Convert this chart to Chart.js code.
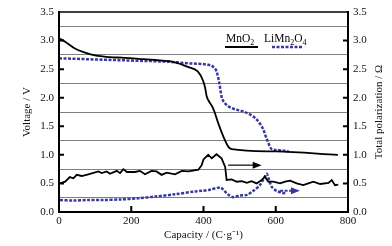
<!DOCTYPE html>
<html>
<head>
<meta charset="utf-8">
<script src="https://cdn.jsdelivr.net/npm/chart.js@4.4.0/dist/chart.umd.min.js"></script>
<style>
  html, body { margin: 0; padding: 0; background: #fff; }
</style>
</head>
<body>
<canvas id="chart" width="392" height="246"></canvas>
<script>
// voltage curves (left axis)
const mno2VoltCap = [0, 17, 44, 72, 100, 140, 174, 220, 266, 321, 357, 384, 398, 404, 409, 413, 427, 441, 455, 469, 478, 600, 772];
const mno2Volt = [3.04, 2.98, 2.86, 2.79, 2.74, 2.71, 2.70, 2.68, 2.66, 2.62, 2.54, 2.46, 2.31, 2.19, 2.02, 1.96, 1.81, 1.55, 1.32, 1.14, 1.10, 1.06, 1.00];

const limnVoltCap = [0, 100, 200, 300, 363, 409, 427, 436, 444, 450, 460, 482, 510, 538, 556, 565, 575, 589, 610, 636];
const limnVolt = [2.69, 2.67, 2.65, 2.63, 2.60, 2.58, 2.54, 2.46, 2.25, 2.02, 1.90, 1.81, 1.76, 1.67, 1.55, 1.45, 1.28, 1.10, 1.08, 1.06];

// polarization curves (right axis)
const mno2PolCap = [3, 17, 30, 40, 49, 63, 81, 109, 118, 132, 141, 160, 169, 178, 188, 210, 224, 238, 256, 270, 284, 298, 321, 340, 358, 386, 395, 400, 413, 423, 436, 450, 460, 464, 478, 492, 506, 520, 533, 547, 561, 570, 579, 593, 612, 626, 640, 658, 676, 690, 704, 723, 746, 755, 764, 773];
const mno2Pol = [0.50, 0.53, 0.61, 0.59, 0.65, 0.63, 0.66, 0.71, 0.68, 0.71, 0.67, 0.72, 0.68, 0.75, 0.70, 0.70, 0.72, 0.66, 0.72, 0.71, 0.65, 0.69, 0.66, 0.72, 0.71, 0.74, 0.82, 0.92, 1.00, 0.94, 1.01, 0.94, 0.79, 0.56, 0.57, 0.53, 0.54, 0.51, 0.54, 0.50, 0.56, 0.62, 0.53, 0.53, 0.50, 0.53, 0.55, 0.50, 0.47, 0.50, 0.53, 0.49, 0.51, 0.56, 0.47, 0.48];

const limnPolCap = [3, 40, 80, 120, 171, 220, 266, 321, 376, 395, 418, 446, 455, 469, 482, 501, 520, 538, 556, 570, 575, 580, 589, 602, 616, 630];
const limnPol = [0.21, 0.20, 0.21, 0.21, 0.22, 0.24, 0.27, 0.31, 0.36, 0.37, 0.39, 0.43, 0.39, 0.30, 0.26, 0.29, 0.30, 0.37, 0.47, 0.62, 0.67, 0.59, 0.44, 0.37, 0.34, 0.32];

// arrows: [fromCap, toCap, value]
const arrowMno2 = [468, 561, 0.82];
const arrowLimn = [612, 667, 0.37];

const BLUE = "#38389e";
const FONT = "Liberation Serif";

function pts(xs, ys) {
  return xs.map((x, i) => ({ x: x, y: ys[i] }));
}

// frame, inner tick marks, legend, arrows, right title
const decorations = {
  id: "decorations",
  afterDraw(chart) {
    const ctx = chart.ctx;
    const a = chart.chartArea;
    const xs = chart.scales.x;
    const ys = chart.scales.y;
    ctx.save();

    ctx.strokeStyle = "#000";
    ctx.lineWidth = 1.5;
    ctx.strokeRect(a.left, a.top, a.right - a.left, a.bottom - a.top);

    // inner ticks
    ctx.lineWidth = 2;
    ctx.beginPath();
    for (let v = 0.5; v < 3.5; v += 0.5) {
      const py = ys.getPixelForValue(v);
      ctx.moveTo(a.left, py); ctx.lineTo(a.left + 5, py);
      ctx.moveTo(a.right, py); ctx.lineTo(a.right - 5, py);
    }
    for (let c = 200; c < 800; c += 200) {
      const px = xs.getPixelForValue(c);
      ctx.moveTo(px, a.bottom); ctx.lineTo(px, a.bottom - 6);
    }
    ctx.stroke();

    // arrows
    function arrow(arr, color, dash) {
      const x1 = xs.getPixelForValue(arr[0]);
      const x2 = xs.getPixelForValue(arr[1]);
      const py = ys.getPixelForValue(arr[2]);
      ctx.strokeStyle = color;
      ctx.fillStyle = color;
      ctx.lineWidth = dash ? 2 : 1.2;
      ctx.setLineDash(dash || []);
      ctx.beginPath();
      ctx.moveTo(x1, py); ctx.lineTo(x2 - 6, py);
      ctx.stroke();
      ctx.setLineDash([]);
      ctx.beginPath();
      ctx.moveTo(x2, py); ctx.lineTo(x2 - 9, py - 3.5); ctx.lineTo(x2 - 9, py + 3.5);
      ctx.closePath();
      ctx.fill();
    }
    arrow(arrowMno2, "#000", null);
    arrow(arrowLimn, BLUE, [3, 1.5]);

    // legend
    ctx.fillStyle = "#000";
    ctx.textBaseline = "alphabetic";
    ctx.textAlign = "left";
    function chem(parts, x, y) {
      parts.forEach(p => {
        ctx.font = (p[1] ? "8px " : "11.5px ") + FONT;
        ctx.fillText(p[0], x, p[1] ? y + 3 : y);
        x += ctx.measureText(p[0]).width;
      });
    }
    chem([["MnO", 0], ["2", 1]], 226, 42);
    chem([["LiMn", 0], ["2", 1], ["O", 0], ["4", 1]], 264, 42);
    ctx.strokeStyle = "#000";
    ctx.lineWidth = 2;
    ctx.beginPath(); ctx.moveTo(225, 47); ctx.lineTo(258, 47); ctx.stroke();
    ctx.strokeStyle = BLUE;
    ctx.lineWidth = 2.5;
    ctx.setLineDash([3, 1.5]);
    ctx.beginPath(); ctx.moveTo(272, 47); ctx.lineTo(302, 47); ctx.stroke();
    ctx.setLineDash([]);

    // right axis title, reading bottom to top
    ctx.fillStyle = "#111";
    ctx.font = "11px " + FONT;
    ctx.textAlign = "center";
    ctx.textBaseline = "middle";
    ctx.translate(379, (a.top + a.bottom) / 2);
    ctx.rotate(-Math.PI / 2);
    ctx.fillText("Total polarization / Ω", 0, 0);
    ctx.restore();
  }
};

const ctx = document.getElementById("chart").getContext("2d");
new Chart(ctx, {
  type: "line",
  data: {
    datasets: [
      {
        label: "MnO2 voltage",
        data: pts(mno2VoltCap, mno2Volt),
        borderColor: "#000",
        borderWidth: 1.8,
        pointRadius: 0,
        cubicInterpolationMode: "monotone",
        yAxisID: "y",
      },
      {
        label: "LiMn2O4 voltage",
        data: pts(limnVoltCap, limnVolt),
        borderColor: BLUE,
        borderWidth: 2.5,
        borderDash: [3, 1.5],
        pointRadius: 0,
        cubicInterpolationMode: "monotone",
        yAxisID: "y",
      },
      {
        label: "MnO2 polarization",
        data: pts(mno2PolCap, mno2Pol),
        borderColor: "#000",
        borderWidth: 1.8,
        pointRadius: 0,
        tension: 0,
        yAxisID: "y2",
      },
      {
        label: "LiMn2O4 polarization",
        data: pts(limnPolCap, limnPol),
        borderColor: BLUE,
        borderWidth: 2.5,
        borderDash: [3, 1.5],
        pointRadius: 0,
        tension: 0.3,
        yAxisID: "y2",
      },
    ],
  },
  options: {
    responsive: false,
    animation: false,
    layout: { padding: { top: 12, left: 0, right: 0, bottom: 0 } },
    plugins: {
      legend: { display: false },
      tooltip: { enabled: false },
    },
    scales: {
      x: {
        type: "linear",
        min: 0,
        max: 800,
        ticks: { stepSize: 200, color: "#111", padding: 3, font: { family: FONT, size: 11 } },
        grid: { drawOnChartArea: false, drawTicks: false },
        border: { color: "#000", width: 2 },
        title: {
          display: true,
          text: "Capacity / (C·g⁻¹)",
          color: "#111",
          font: { family: FONT, size: 11 },
          padding: { top: 0, bottom: 4 },
        },
        afterFit: (s) => { s.height = 34; },
      },
      y: {
        position: "left",
        min: 0,
        max: 3.5,
        ticks: {
          stepSize: 0.25,
          autoSkip: false,
          color: "#111",
          padding: 5,
          font: { family: FONT, size: 11 },
          callback: (v) => (Math.round(v * 4) % 2 === 0 ? v.toFixed(1) : ""),
        },
        grid: {
          drawTicks: false,
          color: (c) => (c.tick && Math.round(c.tick.value * 4) % 2 === 1 ? "#808080" : "rgba(0,0,0,0)"),
          lineWidth: 1,
        },
        border: { color: "#000", width: 2 },
        title: {
          display: true,
          text: "Voltage / V",
          color: "#111",
          font: { family: FONT, size: 11 },
          padding: { top: 21, bottom: 0 },
        },
        afterFit: (s) => { s.width = 59; },
      },
      y2: {
        position: "right",
        min: 0,
        max: 3.5,
        ticks: {
          stepSize: 0.5,
          color: "#111",
          padding: 5,
          font: { family: FONT, size: 11 },
          callback: (v) => v.toFixed(1),
        },
        grid: { drawOnChartArea: false, drawTicks: false },
        border: { color: "#000", width: 2 },
        afterFit: (s) => { s.width = 44; },
      },
    },
  },
  plugins: [decorations],
});
</script>
</body>
</html>
